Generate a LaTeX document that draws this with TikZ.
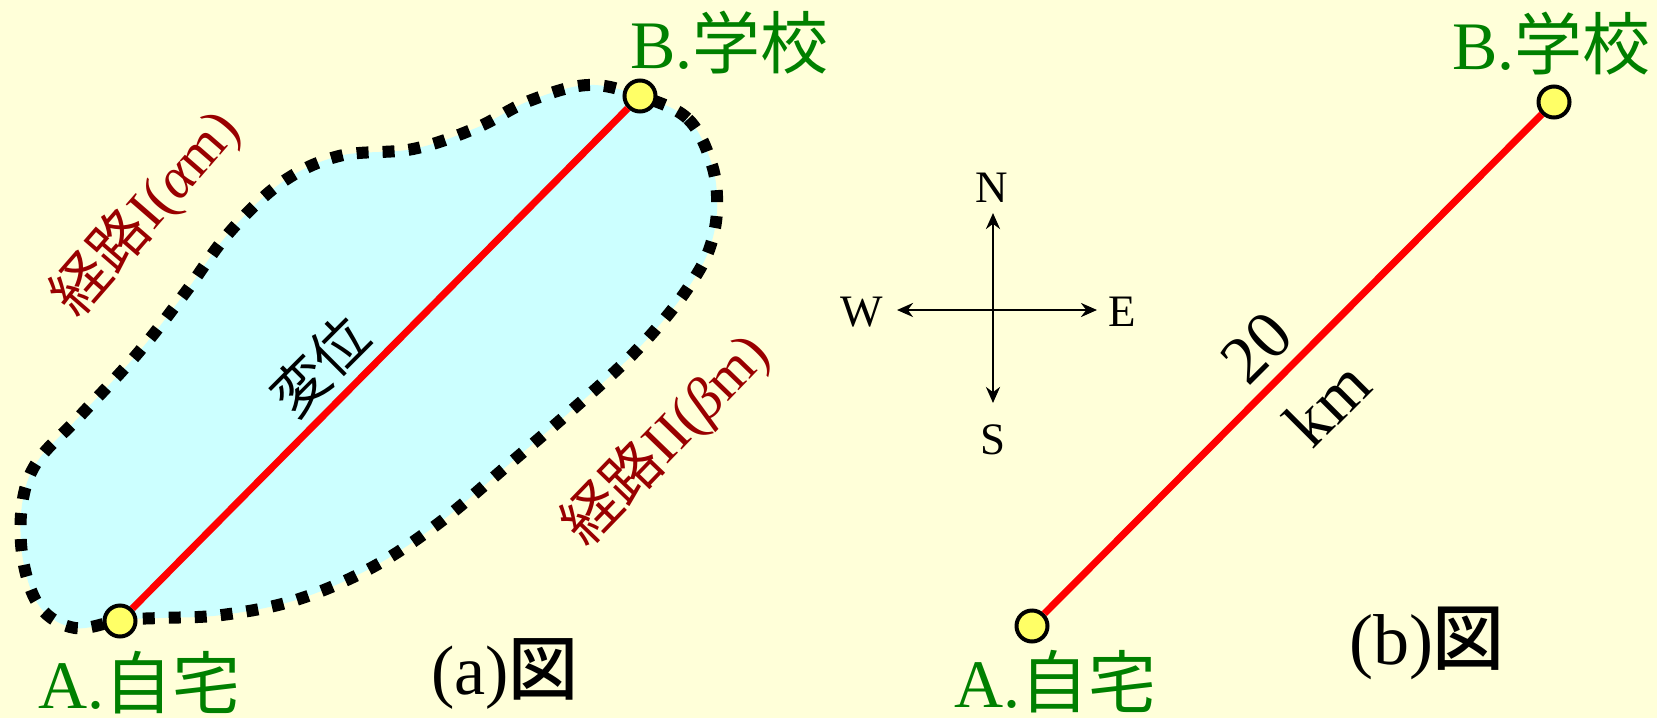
\documentclass[tikz,border=0pt]{standalone}
\usepackage{fontspec}
\setmainfont{Liberation Serif}
\newfontfamily\cjk{Noto Sans CJK JP}
\newfontfamily\cjkmed{Noto Sans CJK JP Medium}
\usetikzlibrary{arrows.meta}
\definecolor{bgcol}{RGB}{255,255,217}
\definecolor{blobfill}{RGB}{204,255,255}
\definecolor{ptgreen}{RGB}{0,128,0}
\definecolor{pathred}{RGB}{153,0,0}
\definecolor{dotyellow}{RGB}{255,255,102}
\definecolor{dispred}{RGB}{255,0,0}
\tikzset{
  ptdot/.style={circle, draw=black, line width=4pt, fill=dotyellow, minimum size=31pt, inner sep=0pt},
  placelabel/.style={text=ptgreen, inner sep=0pt, font=\fontsize{68}{72}\selectfont},
  routelabel/.style={text=pathred, inner sep=0pt, font=\fontsize{58}{62}\selectfont},
  blacklabel/.style={text=black, inner sep=0pt, font=\fontsize{60}{64}\selectfont},
  compasslabel/.style={text=black, inner sep=0pt, font=\fontsize{45}{48}\selectfont},
  disp/.style={draw=dispred, line width=7pt},
  blobline/.style={draw=black, line width=12pt, dash pattern=on 12pt off 14pt, fill=blobfill},
  compassarrow/.style={draw=black, line width=2.8pt, {Stealth[length=16pt,width=14pt]}-{Stealth[length=16pt,width=14pt]}}
}
\begin{document}
\begin{tikzpicture}[x=1pt,y=-1pt]
\fill[bgcol] (0,0) rectangle (1657,718);
\useasboundingbox (0,0) rectangle (1657,718);

% ---------- (a) ----------
\path[blobline] plot[smooth cycle, tension=0.6] coordinates {
 (640,96) (688,119) (712,165) (717,210) (709,250) (690,285) (662,322)
 (625,362) (572,410) (508,465) (439,523) (371,568) (296,600) (222,615)
 (159,618) (121,620) (75,628) (40,607) (23,560) (22,505) (37,462)
 (79,417) (138,353) (185,293) (228,234) (281,183) (339,156) (413,149)
 (476,128) (529,101) (588,85)};

\node[ptdot] (A1) at (120,621) {};
\node[ptdot] (B1) at (640,96) {};
\draw[disp] (A1) -- (B1);

\node[placelabel, anchor=base west] (lA1) at (38,708) {A.{\cjk 自宅}};
\node[placelabel, anchor=base west] (lB1) at (630,68) {B.{\cjk 学校}};
\node[routelabel, rotate=49] (r1) at (146,213) {{\cjk 経路}I(\textit{α}m)};
\node[routelabel, rotate=46] (r2) at (666,440) {{\cjk 経路}II(\textit{β}m)};
\node[blacklabel, rotate=45, font=\fontsize{56}{60}\selectfont] (dsp) at (320,366) {\cjk 変位};
\node[blacklabel, font=\fontsize{70}{74}\selectfont] (capa) at (505,674) {(a){\cjkmed 図}};

% ---------- compass ----------
\coordinate (cn) at (993,213);
\coordinate (cs) at (993,403);
\coordinate (cw) at (897,310);
\coordinate (ce) at (1097,310);
\draw[compassarrow] (cn) -- (cs);
\draw[compassarrow] (cw) -- (ce);
\node[compasslabel] (N) at (992,188) {N};
\node[compasslabel] (S) at (993,440) {S};
\node[compasslabel] (W) at (862,312) {W};
\node[compasslabel] (E) at (1122,312) {E};

% ---------- (b) ----------
\node[ptdot] (A2) at (1032,626) {};
\node[ptdot] (B2) at (1554,102) {};
\draw[disp] (A2) -- (B2);
\node[placelabel, anchor=base west] (lA2) at (954,707) {A.{\cjk 自宅}};
\node[placelabel, anchor=base west] (lB2) at (1452,69) {B.{\cjk 学校}};
\node[blacklabel, rotate=45, font=\fontsize{68}{72}\selectfont] (d20) at (1257,348) {20};
\node[blacklabel, rotate=45, font=\fontsize{68}{72}\selectfont] (dkm) at (1327,403) {km};
\node[blacklabel, font=\fontsize{72}{76}\selectfont] (capb) at (1427,643) {(b){\cjkmed 図}};
\end{tikzpicture}
\end{document}
